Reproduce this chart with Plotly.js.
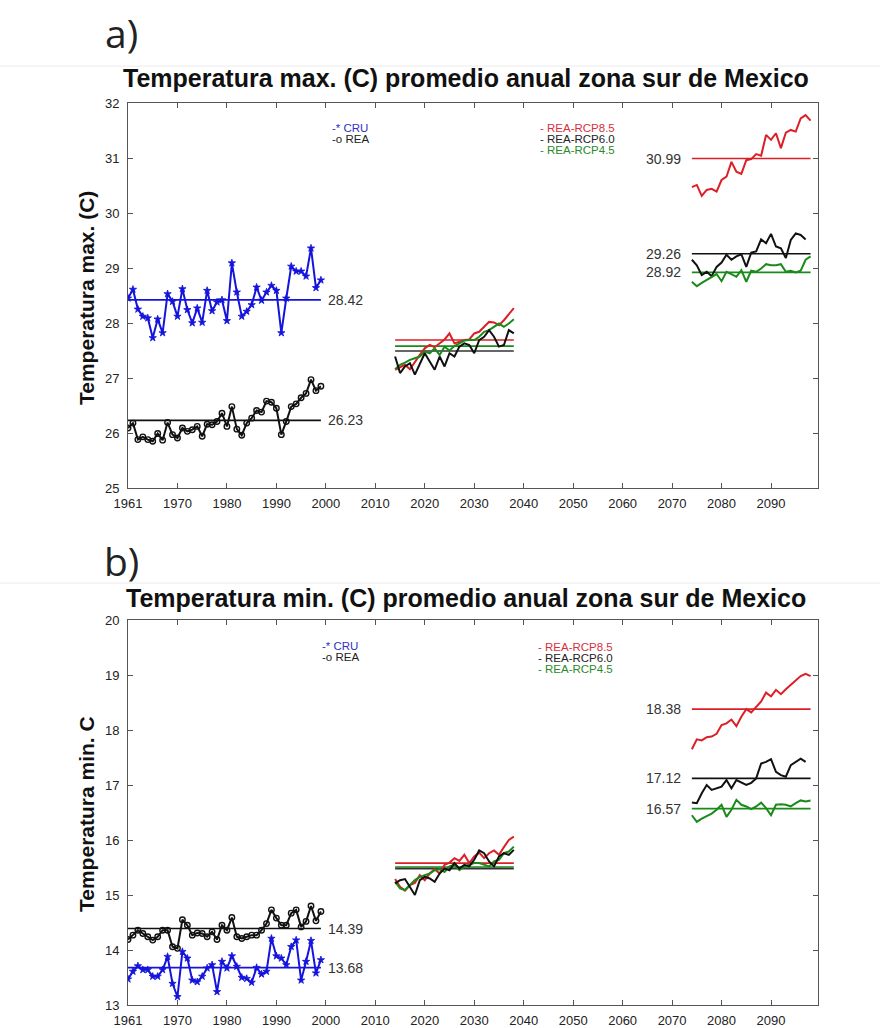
<!DOCTYPE html>
<html><head><meta charset="utf-8">
<script src="https://cdn.plot.ly/plotly-3.0.1.min.js"></script>
<style>html,body{margin:0;padding:0;background:#fff}#chart{width:889px;height:1028px}</style>
</head><body><div id="chart"></div>
<script>
// ---- periods (years as placed on the reference's axis) ----
const histYears = [1960,1961,1962,1963,1964,1965,1966,1967,1968,1969,1970,1971,1972,1973,1974,1975,1976,1977,1978,1979,1980,1981,1982,1983,1984,1985,1986,1987,1988,1989,1990,1991,1992,1993,1994,1995,1996,1997,1998,1999];
const midYears = [2014,2015,2016,2017,2018,2019,2020,2021,2022,2023,2024,2025,2026,2027,2028,2029,2030,2031,2032,2033,2034,2035,2036,2037,2038];
const endYears = [2074,2075,2076,2077,2078,2079,2080,2081,2082,2083,2084,2085,2086,2087,2088,2089,2090,2091,2092,2093,2094,2095,2096,2097,2098];
const endYears60 = [2074,2075,2076,2077,2078,2079,2080,2081,2082,2083,2084,2085,2086,2087,2088,2089,2090,2091,2092,2093,2094,2095,2096,2097];

const tickVals = [1960,1970,1980,1990,2000,2010,2020,2030,2040,2050,2060,2070,2080,2090];
const tickText = ["1961","1970","1980","1990","2000","2010","2020","2030","2040","2050","2060","2070","2080","2090"];

// ---- a) Temperatura maxima ----
const maxCRU = [28.45,28.61,28.25,28.12,28.09,27.73,28.07,27.82,28.53,28.39,28.12,28.62,28.24,28.00,28.27,28.01,28.59,28.22,28.38,28.42,28.04,29.09,28.56,28.12,28.21,28.33,28.65,28.41,28.56,28.68,28.59,27.82,28.45,29.03,28.94,28.94,28.85,29.36,28.64,28.78];
const maxREA = [26.09,26.18,25.88,25.93,25.88,25.85,25.99,25.87,26.19,25.97,25.91,26.09,26.03,26.06,26.12,25.94,26.16,26.15,26.21,26.36,26.12,26.48,26.07,25.96,26.18,26.27,26.41,26.38,26.58,26.56,26.45,25.97,26.21,26.48,26.53,26.64,26.72,26.97,26.77,26.85];
const maxMid85 = [27.15,27.19,27.24,27.16,27.30,27.42,27.54,27.60,27.56,27.63,27.70,27.81,27.63,27.66,27.69,27.70,27.81,27.84,27.93,28.02,28.01,27.96,28.05,28.15,28.27];
const maxMid60 = [27.39,27.09,27.21,27.27,27.06,27.24,27.45,27.30,27.15,27.39,27.21,27.45,27.39,27.57,27.63,27.60,27.45,27.69,27.75,27.87,27.75,27.57,27.60,27.87,27.81];
const maxMid45 = [27.16,27.24,27.28,27.33,27.36,27.39,27.48,27.45,27.54,27.42,27.57,27.50,27.58,27.63,27.68,27.69,27.69,27.75,27.84,27.87,27.93,27.99,27.93,27.99,28.07];
const maxEnd85 = [30.47,30.51,30.31,30.42,30.44,30.39,30.60,30.66,30.93,30.75,30.71,30.96,30.98,31.07,31.04,31.42,31.33,31.45,31.18,31.46,31.51,31.48,31.72,31.78,31.68];
const maxEnd60 = [29.15,29.05,28.87,28.93,28.85,29.02,29.10,29.24,29.15,29.21,29.25,29.02,29.28,29.30,29.52,29.45,29.62,29.39,29.36,29.18,29.51,29.63,29.60,29.52];
const maxEnd45 = [28.75,28.67,28.73,28.78,28.84,28.89,28.76,28.93,28.89,28.84,28.96,28.75,28.95,28.93,28.99,29.07,29.05,29.05,29.07,28.93,28.95,28.92,28.95,29.15,29.21];
// means: [CRU, REA, mid85, mid60, mid45, end85, end60, end45]
const maxMeans = [28.42,26.23,27.69,27.49,27.58,30.99,29.26,28.92];

// ---- b) Temperatura minima ----
const minCRU = [13.47,13.61,13.71,13.64,13.64,13.52,13.52,13.64,13.88,13.39,13.15,13.97,13.85,13.45,13.42,13.52,13.67,13.73,13.24,13.79,13.67,13.89,13.70,13.50,13.48,13.41,13.68,13.56,13.61,14.21,13.89,13.85,13.73,14.06,14.18,13.45,13.79,14.17,13.58,13.82];
const minREA = [14.19,14.27,14.36,14.30,14.24,14.18,14.24,14.36,14.36,14.06,14.03,14.55,14.45,14.27,14.31,14.30,14.24,14.33,14.19,14.45,14.36,14.59,14.24,14.21,14.24,14.27,14.27,14.36,14.48,14.73,14.58,14.45,14.45,14.67,14.73,14.42,14.52,14.80,14.53,14.70];
const minMid85 = [15.29,15.15,15.08,15.18,15.22,15.36,15.27,15.39,15.47,15.39,15.55,15.59,15.67,15.62,15.73,15.58,15.70,15.77,15.67,15.76,15.81,15.73,15.87,16.00,16.06];
const minMid60 = [15.21,15.27,15.29,15.15,15.00,15.27,15.33,15.30,15.24,15.39,15.48,15.45,15.58,15.48,15.55,15.52,15.64,15.81,15.76,15.61,15.52,15.70,15.76,15.73,15.82];
const minMid45 = [15.24,15.12,15.09,15.18,15.27,15.33,15.36,15.39,15.45,15.47,15.42,15.52,15.55,15.45,15.52,15.55,15.58,15.58,15.55,15.52,15.61,15.64,15.76,15.79,15.88];
const minEnd85 = [17.65,17.83,17.81,17.87,17.88,17.93,18.09,18.12,18.19,18.07,18.24,18.38,18.32,18.42,18.52,18.68,18.61,18.73,18.65,18.74,18.82,18.90,18.98,19.02,18.98];
const minEnd60 = [16.68,16.67,16.85,17.00,16.91,16.94,16.97,17.09,16.94,17.09,17.04,17.00,17.04,17.12,17.39,17.42,17.47,17.24,17.18,17.15,17.36,17.42,17.48,17.42];
const minEnd45 = [16.45,16.33,16.39,16.44,16.48,16.55,16.64,16.42,16.55,16.73,16.64,16.61,16.56,16.61,16.68,16.58,16.45,16.64,16.65,16.64,16.61,16.67,16.72,16.70,16.72];
const minMeans = [13.68,14.39,15.58,15.48,15.51,18.38,17.12,16.57];

const titles = ["Temperatura max. (C) promedio anual zona sur de Mexico","Temperatura min. (C) promedio anual zona sur de Mexico"];
const yTitles = ["Temperatura max. (C)","Temperatura min. C"];
const panelLabels = ["a)","b)"];
const legendLeft = ["-* CRU","-o REA"];
const legendRight = ["- REA-RCP8.5","- REA-RCP6.0","- REA-RCP4.5"];

// ---- styling ----
const C_BLUE = "#1414dc", C_BLACK = "#111111", C_RED = "#dc1f26", C_GREEN = "#1a8a1a";
const W = 889, H = 1028;
const px = x => x / W, py = y => 1 - y / H;

const traces = [];
function series(x, y, color, ax, marker) {
  const t = {x, y, type:"scatter", mode: marker ? "lines+markers" : "lines",
    line:{color, width:2}, xaxis:"x"+ax, yaxis:"y"+ax, hoverinfo:"x+y", showlegend:false};
  if (marker) t.marker = marker;
  traces.push(t);
}
function meanLine(years, m, color, ax, w) {
  traces.push({x:[years[0], years[years.length-1]], y:[m,m], type:"scatter", mode:"lines",
    line:{color, width:w||1.6}, xaxis:"x"+ax, yaxis:"y"+ax, hoverinfo:"y", showlegend:false});
}
const starM = {symbol:"star", size:5.5, color:C_BLUE, line:{color:C_BLUE, width:0.8}};
const circM = {symbol:"circle-open", size:5.5, color:C_BLACK, line:{color:C_BLACK, width:1.4}};

function panel(ax, cru, rea, m85, m60, m45, e85, e60, e45, means) {
  meanLine(histYears, means[0], C_BLUE, ax);
  meanLine(histYears, means[1], C_BLACK, ax);
  series(histYears, cru, C_BLUE, ax, starM);
  series(histYears, rea, C_BLACK, ax, circM);
  meanLine(midYears, means[2], C_RED, ax);
  meanLine(midYears, means[4], C_GREEN, ax);
  meanLine(midYears, means[3], "#333", ax);
  series(midYears, m85, C_RED, ax);
  series(midYears, m45, C_GREEN, ax);
  series(midYears, m60, C_BLACK, ax);
  meanLine(endYears, means[5], C_RED, ax);
  meanLine(endYears, means[6], C_BLACK, ax);
  meanLine(endYears, means[7], C_GREEN, ax);
  series(endYears, e85, C_RED, ax);
  series(endYears60, e60, C_BLACK, ax);
  series(endYears, e45, C_GREEN, ax);
}
panel("", maxCRU, maxREA, maxMid85, maxMid60, maxMid45, maxEnd85, maxEnd60, maxEnd45, maxMeans);
panel("2", minCRU, minREA, minMid85, minMid60, minMid45, minEnd85, minEnd60, minEnd45, minMeans);

const tickFont = {family:"Liberation Sans, Arial, sans-serif", size:13, color:"#222"};
function xAxis(anchor) {
  return {domain:[px(128), px(818)], range:[1960, 2099.5], tickvals:tickVals, ticktext:tickText,
    ticks:"inside", ticklen:5, tickcolor:"#555", showline:true, linecolor:"#555", linewidth:1,
    mirror:"ticks", showgrid:false, zeroline:false, tickfont:tickFont, anchor, ticklabelstandoff:3};
}
function yAxis(anchor, top, bottom, r) {
  return {domain:[py(bottom), py(top)], range:r, dtick:1, tick0:r[0],
    ticks:"inside", ticklen:5, tickcolor:"#555", showline:true, linecolor:"#555", linewidth:1,
    mirror:"ticks", showgrid:false, zeroline:false, tickfont:tickFont, anchor, ticklabelstandoff:5};
}

const ann = [];
const lblFont = {family:"Liberation Sans, Arial, sans-serif", size:14, color:"#333"};
function meanLabels(ax, means) {
  const xr = "x"+ax, yr = "y"+ax;
  [0,1].forEach(i => ann.push({x:histYears[histYears.length-1], y:means[i], xref:xr, yref:yr,
    text:means[i].toFixed(2), showarrow:false, xanchor:"left", xshift:5, font:lblFont}));
  [5,6,7].forEach(i => ann.push({x:endYears[0], y:means[i], xref:xr, yref:yr,
    text:means[i].toFixed(2), showarrow:false, xanchor:"right", xshift:-9, font:lblFont}));
}
meanLabels("", maxMeans);
meanLabels("2", minMeans);

const panelsPx = [
  {title:78, label:32, ytitleY:298, legY:[128,139], legRY:[128,139,150], legX:330, legRX:538},
  {title:598, label:560, ytitleY:814, legY:[646,657], legRY:[647,658,669], legX:320, legRX:536}
];
const legFont = c => ({family:"Liberation Sans, Arial, sans-serif", size:11.5, color:c});
panelsPx.forEach((p, k) => {
  ann.push({xref:"paper", yref:"paper", x:px(466), y:py(p.title), text:"<b>"+titles[k]+"</b>",
    showarrow:false, xanchor:"center", yanchor:"middle",
    font:{family:"Liberation Sans, Arial, sans-serif", size:25, color:"#111"}});
  ann.push({xref:"paper", yref:"paper", x:px(121), y:py(p.label), text:panelLabels[k],
    showarrow:false, xanchor:"center", yanchor:"middle",
    font:{family:"Open Sans, sans-serif", size:39, color:"#222"}});
  ann.push({xref:"paper", yref:"paper", x:px(86), y:py(p.ytitleY), text:"<b>"+yTitles[k]+"</b>",
    showarrow:false, textangle:-90, xanchor:"center", yanchor:"middle",
    font:{family:"Liberation Sans, Arial, sans-serif", size:21, color:"#111"}});
  legendLeft.forEach((t, i) => ann.push({xref:"paper", yref:"paper", x:px(p.legX), y:py(p.legY[i]),
    text:t, showarrow:false, xanchor:"left", yanchor:"middle", font:legFont(i===0 ? "#3030c8" : "#222")}));
  const rc = ["#d8303a", "#222", "#2a8a2a"];
  legendRight.forEach((t, i) => ann.push({xref:"paper", yref:"paper", x:px(p.legRX), y:py(p.legRY[i]),
    text:t, showarrow:false, xanchor:"left", yanchor:"middle", font:legFont(rc[i])}));
});

const layout = {
  width:W, height:H, margin:{l:0,r:0,t:0,b:0}, paper_bgcolor:"#fff", plot_bgcolor:"#fff",
  showlegend:false,
  xaxis: xAxis("y"), yaxis: yAxis("x", 103, 488, [25,32]),
  xaxis2: xAxis("y2"), yaxis2: yAxis("x2", 620, 1005, [13,20]),
  annotations: ann,
  shapes: [
    {type:"line", xref:"paper", yref:"paper", x0:0, x1:px(880), y0:py(66), y1:py(66), line:{color:"#ececec", width:1}},
    {type:"line", xref:"paper", yref:"paper", x0:0, x1:px(880), y0:py(583), y1:py(583), line:{color:"#ececec", width:1}}
  ]
};
Plotly.newPlot("chart", traces, layout, {staticPlot:true, displayModeBar:false});
</script></body></html>
